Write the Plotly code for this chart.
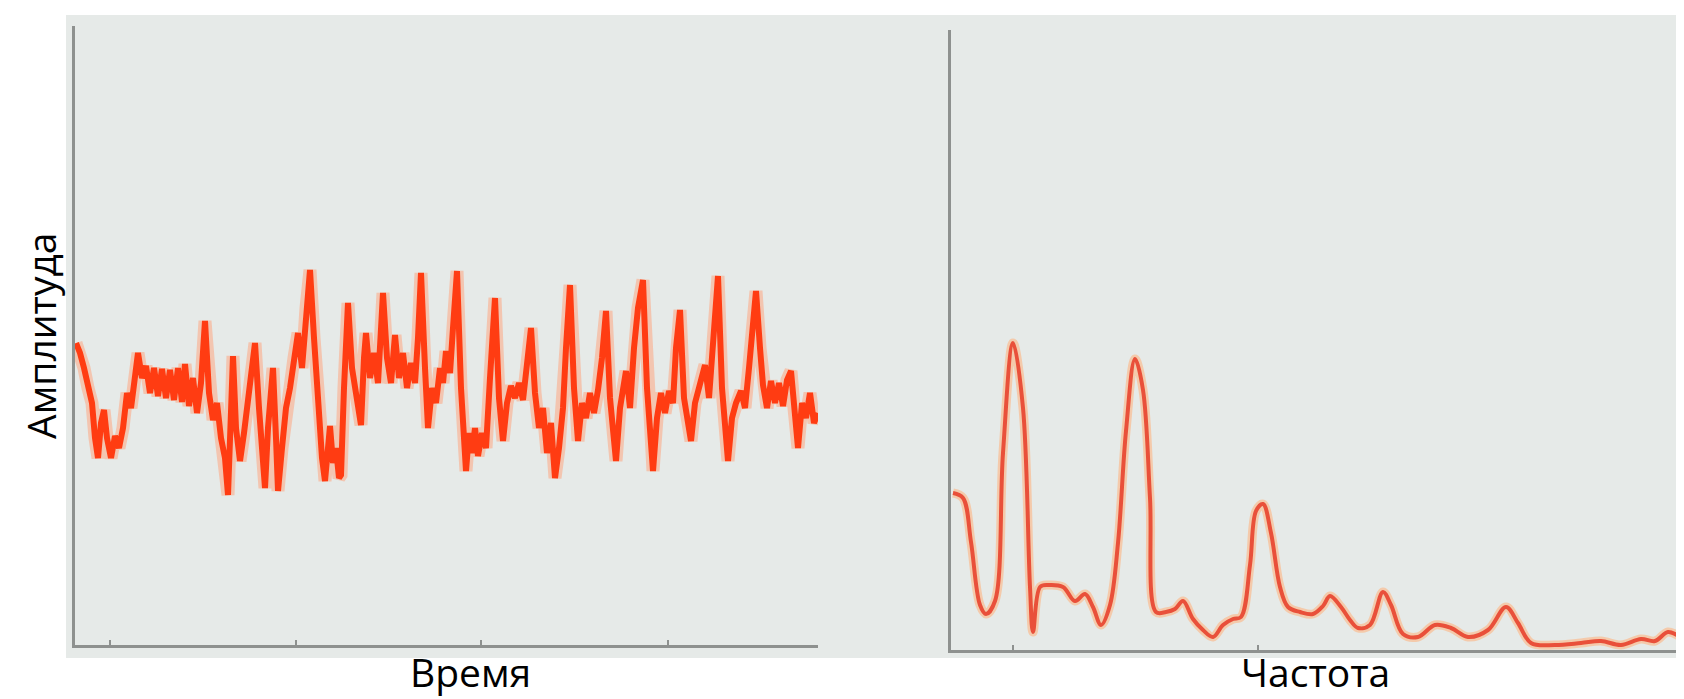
import plotly.graph_objects as go

# time-domain signal (arbitrary units)
time_t = [1, 5, 9, 13, 17, 20, 23, 26, 29, 32, 36, 40, 44, 48, 52, 56, 60, 63, 67, 71,
          75, 79, 83, 87, 91, 95, 99, 103, 107, 110, 114, 118, 122, 126, 130, 134, 138, 142, 146, 150,
          153, 156, 158, 161, 165, 169, 173, 177, 180, 184, 187, 190, 193, 196, 198, 201, 203, 207, 211, 215,
          219, 223, 227, 231, 235, 239, 243, 247, 250, 253, 255, 258, 261, 264, 266, 269, 273, 277, 281, 286,
          289, 291, 295, 299, 303, 308, 312, 316, 320, 324, 328, 332, 336, 340, 343, 346, 350, 353, 357, 361,
          365, 368, 371, 375, 378, 382, 386, 391, 394, 397, 400, 403, 407, 411, 415, 420, 424, 428, 432, 436,
          440, 444, 448, 452, 456, 460, 464, 468, 472, 476, 480, 484, 488, 491, 495, 499, 503, 507, 511, 515,
          519, 523, 527, 531, 535, 541, 545, 551, 555, 559, 563, 568, 572, 578, 582, 586, 590, 594, 598, 601,
          605, 609, 616, 620, 625, 630, 634, 638, 643, 647, 653, 657, 661, 666, 670, 674, 678, 681, 685, 688,
          692, 696, 700, 704, 708, 712, 716, 719, 723, 727, 731, 735, 739, 743]
amp_t = [302, 292, 277, 257, 242, 207, 187, 222, 235, 207, 187, 209, 197, 217, 252, 237, 277, 292, 267, 279,
         252, 277, 249, 276, 247, 275, 245, 277, 243, 281, 239, 267, 232, 262, 324, 252, 225, 242, 207, 187,
         150, 227, 289, 217, 184, 212, 242, 277, 302, 237, 187, 157, 217, 257, 277, 207, 154, 197, 237, 257,
         287, 312, 277, 337, 375, 307, 237, 187, 164, 207, 219, 182, 197, 167, 170, 257, 342, 277, 247, 220,
         287, 312, 267, 292, 262, 352, 287, 262, 310, 267, 292, 257, 282, 262, 307, 372, 277, 217, 257, 242,
         277, 262, 294, 272, 317, 374, 257, 174, 212, 192, 217, 189, 212, 197, 267, 347, 247, 204, 242, 259,
         247, 262, 245, 277, 317, 252, 217, 237, 192, 222, 167, 197, 237, 297, 360, 257, 204, 242, 227, 252,
         232, 255, 287, 334, 247, 184, 237, 274, 237, 297, 337, 365, 257, 174, 227, 252, 232, 254, 242, 297,
         335, 247, 204, 242, 262, 280, 247, 307, 369, 257, 184, 227, 242, 254, 237, 277, 327, 354, 297, 260,
         237, 264, 242, 262, 239, 265, 274, 237, 197, 242, 227, 252, 222, 232]

# spectrum
freq_f = [2, 12, 20, 29, 35, 44, 52, 62, 72, 79, 82, 89, 97, 112, 124, 134, 142, 150, 159, 167,
          175, 184, 192, 199, 205, 215, 224, 232, 242, 252, 262, 272, 282, 290, 299, 305, 312, 320, 329, 337,
          349, 362, 372, 379, 390, 399, 407, 419, 432, 440, 452, 467, 484, 500, 517, 537, 555, 567, 580, 604,
          630, 650, 670, 690, 704, 717, 730, 741]
amp_f = [157, 152, 108, 45, 36, 49, 197, 307, 242, 63, 18, 63, 65, 63, 49, 56, 43, 25, 45, 107,
         219, 291, 260, 152, 38, 38, 41, 49, 31, 20, 13, 25, 31, 33, 85, 139, 146, 117, 63, 43,
         38, 36, 44, 54, 43, 30, 22, 25, 58, 45, 16, 13, 25, 22, 13, 20, 43, 27, 7, 5,
         7, 9, 5, 11, 9, 18, 13, 9]

time_ticks = [35, 221, 406, 593]
freq_ticks = [62, 307]

BG = "#e6eae8"
AXIS = "#8e918f"
FONT = "Open Sans"

fig = go.Figure()

# soft halo + core line, left panel
fig.add_trace(go.Scatter(x=time_t, y=amp_t, mode="lines", xaxis="x", yaxis="y",
                         line=dict(color="rgba(255,160,120,0.5)", width=13), hoverinfo="skip"))
fig.add_trace(go.Scatter(x=time_t, y=amp_t, mode="lines", xaxis="x", yaxis="y",
                         line=dict(color="#ff3c12", width=6)))

# right panel
fig.add_trace(go.Scatter(x=freq_f, y=amp_f, mode="lines", xaxis="x2", yaxis="y2",
                         line=dict(color="rgba(255,175,120,0.55)", width=9, shape="spline"),
                         hoverinfo="skip"))
fig.add_trace(go.Scatter(x=freq_f, y=amp_f, mode="lines", xaxis="x2", yaxis="y2",
                         line=dict(color="#e9503a", width=4, shape="spline")))

axis_common = dict(showgrid=False, zeroline=False, showticklabels=False,
                   showline=True, linecolor=AXIS, linewidth=3)

label_font = dict(family=FONT, size=39, color="black")

fig.update_layout(
    width=1684, height=699,
    margin=dict(l=0, r=0, t=0, b=0),
    paper_bgcolor="white",
    plot_bgcolor="rgba(0,0,0,0)",
    showlegend=False,
    xaxis=dict(domain=[67 / 1684, 810 / 1684], range=[0, 743], anchor="y",
               ticks="inside", tickvals=time_ticks, ticklen=5, tickwidth=2, tickcolor=AXIS,
               **axis_common),
    yaxis=dict(domain=[62 / 699, 681 / 699], range=[0, 619], anchor="x", ticks="",
               **axis_common),
    xaxis2=dict(domain=[943 / 1684, 1.0], range=[0, 741], anchor="y2",
                ticks="inside", tickvals=freq_ticks, ticklen=5, tickwidth=2, tickcolor=AXIS,
                **axis_common),
    yaxis2=dict(domain=[57 / 699, 677 / 699], range=[0, 620], anchor="x2", ticks="",
                **axis_common),
    shapes=[dict(type="rect", xref="paper", yref="paper", x0=58 / 1684, x1=1.0,
                 y0=49 / 699, y1=692 / 699, fillcolor=BG, line=dict(width=0), layer="below")],
    annotations=[
        dict(text="Амплитуда", xref="paper", yref="paper", x=32 / 1684, y=371 / 699,
             xanchor="center", yanchor="middle", textangle=-90, showarrow=False, font=label_font),
        dict(text="Время", xref="paper", yref="paper", x=462 / 1684, y=8 / 699,
             xanchor="center", yanchor="bottom", borderpad=0, showarrow=False, font=label_font),
        dict(text="Частота", xref="paper", yref="paper", x=1307 / 1684, y=8 / 699,
             xanchor="center", yanchor="bottom", borderpad=0, showarrow=False, font=label_font),
    ],
)

fig.write_html("out.html")
